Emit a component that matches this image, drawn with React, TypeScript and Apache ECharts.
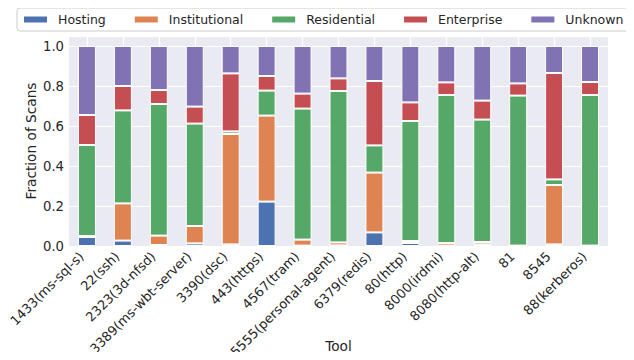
import React, { useEffect, useRef } from "react";
import * as echarts from "echarts";

const categories = [
  "1433(ms-sql-s)",
  "22(ssh)",
  "2323(3d-nfsd)",
  "3389(ms-wbt-server)",
  "3390(dsc)",
  "443(https)",
  "4567(tram)",
  "5555(personal-agent)",
  "6379(redis)",
  "80(http)",
  "8000(irdmi)",
  "8080(http-alt)",
  "81",
  "8545",
  "88(kerberos)",
];

const hosting = [0.045, 0.027, 0.005, 0.013, 0.008, 0.222, 0.002, 0.003, 0.068, 0.015, 0.002, 0.008, 0.0, 0.008, 0.0];
const institutional = [0.005, 0.186, 0.047, 0.087, 0.552, 0.43, 0.03, 0.015, 0.299, 0.01, 0.013, 0.012, 0.002, 0.297, 0.002];
const residential = [0.455, 0.465, 0.658, 0.512, 0.013, 0.125, 0.655, 0.757, 0.136, 0.6, 0.74, 0.612, 0.75, 0.028, 0.753];
const enterprise = [0.15, 0.122, 0.07, 0.085, 0.29, 0.073, 0.075, 0.063, 0.322, 0.093, 0.063, 0.095, 0.061, 0.532, 0.065];
const unknown = [0.345, 0.2, 0.22, 0.303, 0.137, 0.15, 0.238, 0.162, 0.175, 0.282, 0.182, 0.273, 0.187, 0.135, 0.18];

const seriesNames = ["Hosting", "Institutional", "Residential", "Enterprise", "Unknown"];
const seriesColors = ["#4C72B0", "#DD8452", "#55A868", "#C44E52", "#8172B3"];
const seriesData = [hosting, institutional, residential, enterprise, unknown];

const yTicks = [0, 0.2, 0.4, 0.6, 0.8, 1.0];

const TEXT = "#262626";
const FONT = "DejaVu Sans";

export default function App() {
  const ref = useRef<HTMLDivElement>(null);

  useEffect(() => {
    if (!ref.current) return;
    const chart = echarts.init(ref.current, undefined, { renderer: "svg" });
    const option: any = {
      animation: false,
      backgroundColor: "#ffffff",
      textStyle: { fontFamily: FONT, color: TEXT },
      legend: {
        data: seriesNames,
        left: 17,
        top: 8,
        orient: "horizontal",
        padding: [5, 6, 5, 5],
        itemGap: 27,
        itemWidth: 25,
        itemHeight: 8,
        icon: "rect",
        borderColor: "#cccccc",
        borderWidth: 1,
        borderRadius: 3,
        backgroundColor: "#ffffff",
        textStyle: { fontSize: 12.5, color: TEXT, fontFamily: FONT, padding: [0, 0, 0, 5] },
      },
      grid: {
        left: 69,
        right: 26,
        top: 36,
        bottom: 114,
        show: true,
        backgroundColor: "#EAEAF2",
        borderWidth: 0,
        containLabel: false,
        outerBoundsMode: "none",
      },
      xAxis: {
        type: "category",
        data: categories,
        name: "Tool",
        nameLocation: "middle",
        nameGap: 93,
        nameMoveOverlap: false,
        nameTextStyle: { fontSize: 13.7, color: TEXT, fontFamily: FONT },
        axisLine: { show: false },
        axisTick: { show: false },
        axisLabel: {
          interval: 0,
          rotate: 45,
          fontSize: 13,
          color: TEXT,
          fontFamily: FONT,
          margin: 2.5,
          formatter: (v: string) => `${v}{sp|}`,
          rich: { sp: { width: 8 } },
        },
        splitLine: {
          show: true,
          interval: 0,
          alignWithLabel: true,
          lineStyle: { color: "#ffffff", width: 1.2 },
        },
      },
      yAxis: {
        type: "value",
        min: 0,
        max: 1.05,
        interval: 0.2,
        name: "Fraction of Scans",
        nameLocation: "middle",
        nameGap: 31,
        nameMoveOverlap: false,
        nameTextStyle: { fontSize: 13.7, color: TEXT, fontFamily: FONT },
        axisLine: { show: false },
        axisTick: { show: false },
        axisLabel: {
          fontSize: 13.2,
          color: TEXT,
          fontFamily: FONT,
          margin: 5,
          formatter: (v: number) => {
            const hit = yTicks.find((t) => Math.abs(t - v) < 1e-6);
            return hit === undefined ? "" : hit.toFixed(1);
          },
        },
        splitLine: { show: true, lineStyle: { color: "#ffffff", width: 1.2 } },
      },
      series: seriesNames.map((name, i) => ({
        name,
        type: "bar",
        stack: "total",
        barWidth: "50%",
        data: seriesData[i],
        itemStyle: { color: seriesColors[i], borderColor: "#ffffff", borderWidth: 1 },
      })),
    };
    chart.setOption(option);
    return () => chart.dispose();
  }, []);

  return <div ref={ref} style={{ width: 634, height: 360, margin: -8 }} />;
}
